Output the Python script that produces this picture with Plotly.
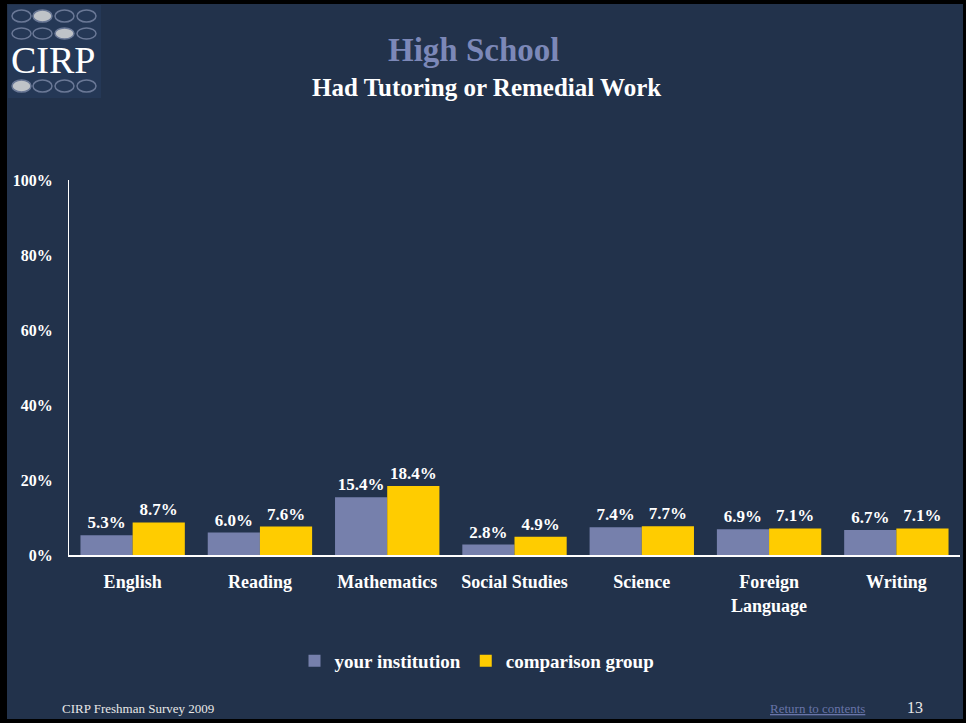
import plotly.graph_objects as go

categories = ["English", "Reading", "Mathematics", "Social Studies", "Science", "Foreign<br>Language", "Writing"]
your_institution = [5.3, 6.0, 15.4, 2.8, 7.4, 6.9, 6.7]
comparison_group = [8.7, 7.6, 18.4, 4.9, 7.7, 7.1, 7.1]
y_ticks = [0, 20, 40, 60, 80, 100]
y_tick_labels = ["0%", "20%", "40%", "60%", "80%", "100%"]

W, H = 966, 723
L, R, T, B = 69, 6, 180, 168
PW, PH = W - L - R, H - T - B

def px(x):
    return (x - L) / PW

def py(y):
    return (H - B - y) / PH

BG = "#22324B"
FONT = "Liberation Serif"

fig = go.Figure()
fig.add_trace(go.Bar(
    x=categories, y=your_institution, name="your institution",
    marker=dict(color="#7680AC", line=dict(width=0)),
    texttemplate="%{y:.1f}%", textposition="outside", constraintext="none", cliponaxis=False,
    textfont=dict(family=FONT, size=17, color="white", weight="bold"),
))
fig.add_trace(go.Bar(
    x=categories, y=comparison_group, name="comparison group",
    marker=dict(color="#FFCC00", line=dict(width=0)),
    texttemplate="%{y:.1f}%", textposition="outside", constraintext="none", cliponaxis=False,
    textfont=dict(family=FONT, size=17, color="white", weight="bold"),
))

shapes = [
    dict(type="rect", xref="paper", yref="paper", x0=px(7), x1=px(963), y0=py(719), y1=py(4),
         fillcolor=BG, line=dict(width=0), layer="below"),
    dict(type="rect", xref="paper", yref="paper", x0=px(8), x1=px(101), y0=py(98), y1=py(5),
         fillcolor="#253856", line=dict(width=0), layer="below"),
]
# logo ovals
rows = [(10, 22, 1), (28, 39, 2), (80, 92, 0)]
cols = [(12, 31), (33, 52), (55, 74), (77, 96)]
for (y0, y1, hi) in rows:
    for i, (x0, x1) in enumerate(cols):
        filled = (i == hi)
        shapes.append(dict(type="circle", xref="paper", yref="paper",
                           x0=px(x0), x1=px(x1), y0=py(y1), y1=py(y0),
                           fillcolor="#BFC3C8" if filled else "rgba(0,0,0,0)",
                           line=dict(color="#6A7896", width=1.5), layer="above"))

annotations = [
    dict(text="CIRP", x=px(53), y=py(60), xref="paper", yref="paper", showarrow=False,
         font=dict(family=FONT, size=38, color="white"), xanchor="center", yanchor="middle"),
    dict(text="<b>High School</b>", x=px(473), y=py(50), xref="paper", yref="paper", showarrow=False,
         font=dict(family=FONT, size=33, color="#7C88B8"), xanchor="center", yanchor="middle"),
    dict(text="<b>Had Tutoring or Remedial Work</b>", x=px(486), y=py(88), xref="paper", yref="paper",
         showarrow=False, font=dict(family=FONT, size=25, color="white"), xanchor="center", yanchor="middle"),
    dict(text="CIRP Freshman Survey 2009", x=px(60), y=py(708), xref="paper", yref="paper", showarrow=False,
         font=dict(family=FONT, size=13, color="#E8E8E8"), xanchor="left", yanchor="middle"),
    dict(text="<u>Return to contents</u>", x=px(817), y=py(708), xref="paper", yref="paper", showarrow=False,
         font=dict(family=FONT, size=13, color="#6874A8"), xanchor="center", yanchor="middle"),
    dict(text="13", x=px(915), y=py(707), xref="paper", yref="paper", showarrow=False,
         font=dict(family=FONT, size=16, color="#E8E8E8"), xanchor="center", yanchor="middle"),
]

fig.update_layout(
    width=W, height=H,
    margin=dict(l=L, r=R, t=T, b=B),
    paper_bgcolor="black", plot_bgcolor="rgba(0,0,0,0)",
    barmode="group", bargap=0.18, bargroupgap=0,
    font=dict(family=FONT, color="white"),
    shapes=shapes, annotations=annotations,
    legend=dict(orientation="h", x=px(477), y=py(661), xanchor="center", yanchor="middle",
                font=dict(family=FONT, size=19, color="white", weight="bold"),
                bgcolor="rgba(0,0,0,0)", itemwidth=30, tracegroupgap=0),
    xaxis=dict(showline=True, linecolor="white", linewidth=1.5, showgrid=False, ticks="",
               tickfont=dict(family=FONT, size=18, color="white", weight="bold"),
               ticklabelstandoff=10, fixedrange=True),
    yaxis=dict(range=[0, 100], tickmode="array", tickvals=y_ticks, ticktext=y_tick_labels,
               showline=True, linecolor="white",
               linewidth=1, showgrid=False, zeroline=False, ticks="",
               tickfont=dict(family=FONT, size=16, color="white", weight="bold"),
               ticklabelstandoff=12, fixedrange=True),
)

fig.write_html("out.html", config={"displayModeBar": False},
               post_script="document.body.style.margin='0';document.body.style.background='black';")
